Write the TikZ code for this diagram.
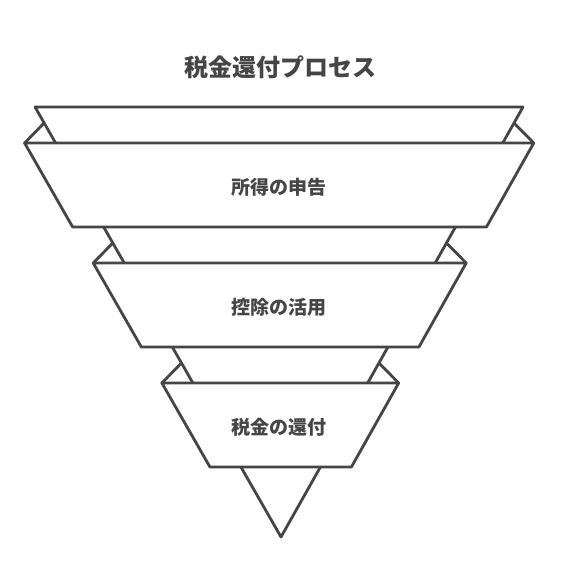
\documentclass[tikz,border=0pt]{standalone}
\usepackage{fontspec}
\newfontfamily\jpfont{Noto Sans CJK JP}
\definecolor{ink}{HTML}{454545}

\begin{document}
\begin{tikzpicture}[x=1pt,y=-1pt,line cap=round,line join=round,
		band/.style={draw=ink,fill=white,line width=2.8pt},
		flap/.style={draw=ink,line width=2.8pt},
		lbl/.style={text=ink,font=\jpfont\bfseries\fontsize{19}{23}\selectfont}
	]
	\tikzset{declare function={
			xl(\t)=35+246/430*(\t-107);
			xr(\t)=523-242/430*(\t-107);
		}
	}
	\useasboundingbox (0,0) rectangle (565,588);
	\node[text=ink,font=\jpfont\bfseries\fontsize{24}{29}\selectfont] (title) at (280,67) {税金還付プロセス};
	% funnel
	\coordinate (tl) at (35,107);
	\coordinate (tr) at (523,107);
	\coordinate (apex) at (281,537);
	\draw[band] (tl) -- (tr) -- (apex) -- cycle;
	% bands with flaps
	\foreach \yt/\txt/\nm in {143/所得の申告/shotoku,263/控除の活用/kojo,383/税金の還付/kanpu}{
		\draw[flap] ({xl(\yt)-31},\yt) -- ({xl(\yt-20)},\yt-20);
		\draw[flap] ({xr(\yt)+31},\yt) -- ({xr(\yt-20)},\yt-20);
		\draw[band] ({xl(\yt)-31},\yt) -- ({xr(\yt)+31},\yt)
			-- ({xr(\yt+84)+31},\yt+84) -- ({xl(\yt+84)-31},\yt+84) -- cycle;
		\node[lbl] (\nm) at (279,\yt+44) {\txt};
	}
\end{tikzpicture}
\end{document}
